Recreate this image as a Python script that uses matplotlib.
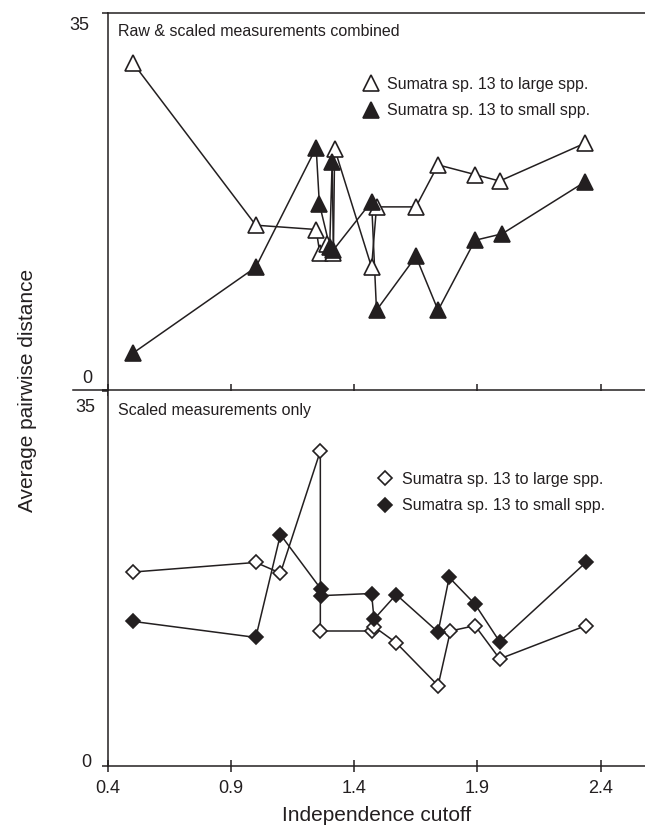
import matplotlib.pyplot as plt
from matplotlib.lines import Line2D

plt.rcParams['font.family'] = ['Liberation Sans', 'DejaVu Sans']

INK = '#231f20'

# top panel: raw & scaled measurements combined
top_large_x = [0.5, 1.0, 1.245, 1.26, 1.29, 1.315, 1.32, 1.47, 1.49, 1.65, 1.74, 1.89, 1.99, 2.335]
top_large_y = [30.4, 15.3, 14.9, 12.7, 13.6, 12.7, 22.4, 11.4, 17.0, 17.0, 20.9, 20.0, 19.4, 22.9]
top_small_x = [0.5, 1.0, 1.245, 1.258, 1.30, 1.31, 1.315, 1.47, 1.49, 1.65, 1.74, 1.89, 2.0, 2.335]
top_small_y = [3.4, 11.4, 22.5, 17.3, 13.3, 21.2, 13.0, 17.5, 7.4, 12.4, 7.4, 13.9, 14.5, 19.3]

# bottom panel: scaled measurements only
bot_large_x = [0.5, 1.0, 1.1, 1.262, 1.262, 1.47, 1.48, 1.57, 1.74, 1.79, 1.89, 1.99, 2.34]
bot_large_y = [18.1, 19.0, 18.0, 29.4, 12.6, 12.6, 13.0, 11.5, 7.5, 12.6, 13.1, 10.0, 13.1]
bot_small_x = [0.5, 1.0, 1.1, 1.265, 1.265, 1.47, 1.48, 1.57, 1.74, 1.785, 1.89, 1.99, 2.34]
bot_small_y = [13.5, 12.0, 21.6, 16.5, 15.9, 16.1, 13.7, 16.0, 12.5, 17.6, 15.1, 11.6, 19.0]

xticks = [0.4, 0.9, 1.4, 1.9, 2.4]
label_large = 'Sumatra sp. 13 to large spp.'
label_small = 'Sumatra sp. 13 to small spp.'

W_PX, H_PX = 645, 830


def fx(px):
    return px / W_PX


def fy(py):
    return 1 - py / H_PX


fig = plt.figure(figsize=(6.45, 8.3), dpi=100)
ax1 = fig.add_axes([fx(108), fy(390), 1 - fx(108), 377 / H_PX])
ax2 = fig.add_axes([fx(108), fy(766), 1 - fx(108), 375 / H_PX])


def draw(ax, xl, yl, xs, ys, marker, ms):
    ax.plot(xl, yl, color=INK, lw=1.1, zorder=2)
    ax.plot(xs, ys, color=INK, lw=1.1, zorder=2)
    ax.plot(xl, yl, ls='none', marker=marker, ms=ms, mfc='white', mec=INK, mew=1.2, zorder=3)
    ax.plot(xs, ys, ls='none', marker=marker, ms=ms, mfc=INK, mec=INK, mew=1.2, zorder=3)


draw(ax1, top_large_x, top_large_y, top_small_x, top_small_y, '^', 12)
draw(ax2, bot_large_x, bot_large_y, bot_small_x, bot_small_y, 'D', 7.5)

for ax in (ax1, ax2):
    ax.set_xlim(0.4, 2.58)
    ax.set_ylim(0, 35)
    ax.set_xticks(xticks)
    ax.set_yticks([0, 35])
    ax.set_yticklabels([])
    ax.spines['right'].set_visible(False)
    for s in ax.spines.values():
        s.set_color(INK)
        s.set_linewidth(1.1)
    ax.tick_params(axis='x', direction='inout', length=8, width=1.1, color=INK,
                   labelsize=13, pad=6, labelcolor=INK)
    ax.tick_params(axis='y', direction='out', length=4, width=1.1, color=INK)

ax1.set_xticklabels([])
ax2.spines['top'].set_visible(False)
ax2.set_xticklabels([f'{t:.1f}' for t in xticks])

# separator stub between the panels
fig.add_artist(Line2D([fx(73), fx(108)], [fy(390), fy(390)], color=INK, lw=1.1))

# y tick labels placed as in the original figure
fig.text(fx(89), fy(25), '35', ha='right', va='center', fontsize=13, color=INK)
fig.text(fx(92), fy(378), '0', ha='right', va='center', fontsize=13, color=INK)
fig.text(fx(95), fy(407), '35', ha='right', va='center', fontsize=13, color=INK)
fig.text(fx(91), fy(762), '0', ha='right', va='center', fontsize=13, color=INK)

fig.text(fx(118), fy(32), 'Raw & scaled measurements combined', ha='left', va='center',
         fontsize=11.5, color=INK)
fig.text(fx(118), fy(410), 'Scaled measurements only', ha='left', va='center',
         fontsize=11.5, color=INK)

fig.text(fx(28), fy(390), 'Average pairwise distance', rotation=90, ha='center', va='center',
         fontsize=15, color=INK)
fig.text(fx(377), fy(815), 'Independence cutoff', ha='center', va='center', fontsize=15, color=INK)


def legend(ax, marker, ms, x_px, y_px, pad):
    h = [Line2D([], [], ls='none', marker=marker, ms=ms, mfc='white', mec=INK, mew=1.2),
         Line2D([], [], ls='none', marker=marker, ms=ms, mfc=INK, mec=INK, mew=1.2)]
    leg = ax.legend(h, [label_large, label_small], loc='upper left', frameon=False,
                    bbox_to_anchor=(fx(x_px), fy(y_px)), bbox_transform=fig.transFigure,
                    borderpad=0, borderaxespad=0, handlelength=1.04, handletextpad=pad,
                    labelspacing=0.7, fontsize=11.5)
    for t in leg.get_texts():
        t.set_color(INK)


legend(ax1, '^', 11, 363, 77, 0.48)
legend(ax2, 'D', 7, 377, 472, 0.54)

fig.savefig('out.png', dpi=100)
